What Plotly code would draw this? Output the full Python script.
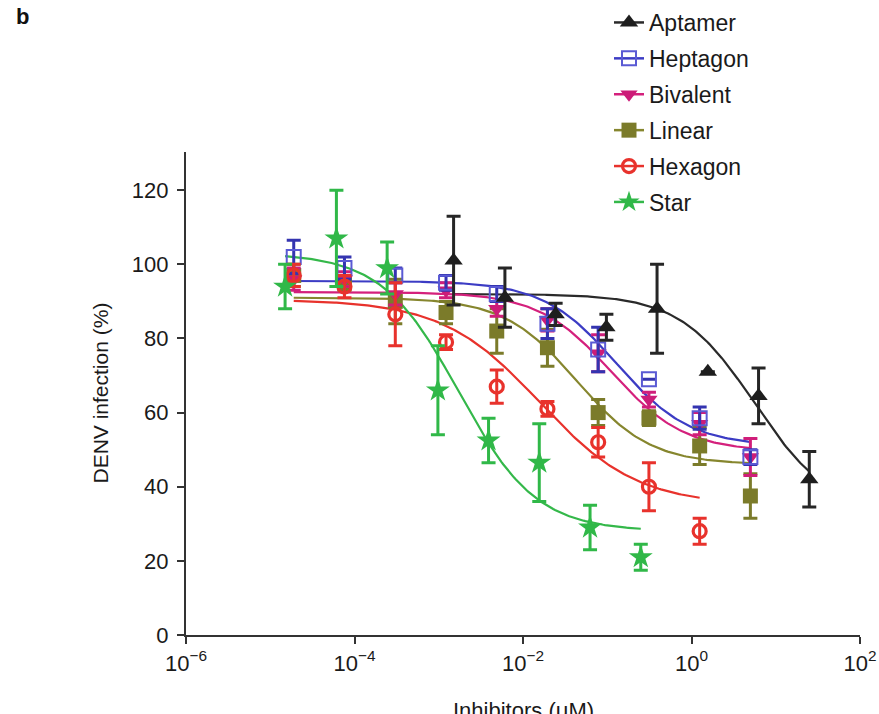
import numpy as np
import plotly.graph_objects as go

# ---- data: DENV infection (%) vs inhibitor concentration (uM) ----
names = ["Aptamer", "Heptagon", "Bivalent", "Linear", "Hexagon", "Star"]

conc_aptamer = [0.0015, 0.0061, 0.0244, 0.0977, 0.39, 1.5625, 6.25, 25]
conc_main = [1.9e-5, 7.6e-5, 3.05e-4, 1.22e-3, 4.88e-3, 0.0195, 0.078, 0.3125, 1.25, 5]
conc_hexagon = [1.9e-5, 7.6e-5, 3.05e-4, 1.22e-3, 4.88e-3, 0.0195, 0.078, 0.3125, 1.25]
conc_star = [1.5e-5, 6.1e-5, 2.44e-4, 9.77e-4, 3.9e-3, 0.0156, 0.0625, 0.25]

aptamer = [101, 91, 86.5, 83, 88, 71, 64.5, 42]
aptamer_err = [12, 8, 3, 3.5, 12, 0, 7.5, 7.5]
heptagon = [102, 99, 97, 95, 92, 84, 77, 69, 58.5, 48]
heptagon_err = [4.5, 3, 2, 2, 2, 4, 6, 0, 3, 2]
bivalent = [96, 96, 92, 93, 88, 85, 76, 63.5, 57, 48]
bivalent_err = [3, 2, 3, 2, 2, 3, 5, 2, 3, 5]
linear = [97, 95, 90, 87, 82, 77.5, 60, 58.5, 51, 37.5]
linear_err = [3, 2, 6, 3, 6, 5, 3.5, 2, 5, 6]
hexagon = [97, 94, 86.5, 79, 67, 61, 52, 40, 28]
hexagon_err = [3, 3, 8.5, 2, 4.5, 2, 4, 6.5, 3.5]
star = [94, 107, 99, 66, 52.5, 46.5, 29, 21]
star_err = [6, 13, 7, 12, 6, 10.5, 6, 3.5]

# four-parameter logistic fits: top, bottom, log10(EC50), Hill slope
fit_top = [92, 95.5, 92.5, 91, 90.5, 103]
fit_bottom = [33, 51, 49.5, 46, 35, 28]
fit_logec50 = [0.75, -0.89, -0.95, -1.36, -1.8, -2.76]
fit_hill = [0.98, 1.0, 1.0, 1.0, 0.75, 0.95]

x_ticks = [1e-6, 1e-4, 1e-2, 1, 100]
x_ticktext = ["10<sup>−6</sup>", "10<sup>−4</sup>", "10<sup>−2</sup>", "10<sup>0</sup>", "10<sup>2</sup>"]
y_ticks = [0, 20, 40, 60, 80, 100, 120]

concs = [conc_aptamer, conc_main, conc_main, conc_main, conc_hexagon, conc_star]
values = [aptamer, heptagon, bivalent, linear, hexagon, star]
errors = [aptamer_err, heptagon_err, bivalent_err, linear_err, hexagon_err, star_err]

# ---- styles ----
line_colors = ["#2a2a2a", "#3c3cc4", "#d4207c", "#86862e", "#e8322c", "#34b84a"]
marker_colors = ["#1e1e1e", "#5a5ad4", "#cc1c78", "#7b7b2a", "#e8322c", "#30b848"]
bar_colors = ["#262626", "#3434b0", "#d01e7a", "#7b7b2a", "#e8322c", "#30b848"]
symbols = ["triangle-up", "square-open", "triangle-down", "square", "circle-open", "star"]
sizes = [16, 14, 15, 15, 13, 18]
marker_lw = [0, 2, 0, 0, 3.2, 0]

FONT = "Liberation Sans, Arial, sans-serif"
fig = go.Figure()


def logistic(x, top, bottom, c, h):
    return bottom + (top - bottom) / (1 + 10 ** (h * (np.log10(x) - c)))


# fitted curves
for i in range(len(names)):
    xs = np.logspace(np.log10(min(concs[i])), np.log10(max(concs[i])), 200)
    ys = logistic(xs, fit_top[i], fit_bottom[i], fit_logec50[i], fit_hill[i])
    fig.add_trace(go.Scatter(x=xs, y=ys, mode="lines", showlegend=False,
                             line=dict(color=line_colors[i], width=2.2),
                             hoverinfo="skip"))

# data points with error bars
draw_order = [3, 2, 1, 4, 5, 0]
for i in draw_order:
    fig.add_trace(go.Scatter(
        x=concs[i], y=values[i], mode="markers", showlegend=False, name=names[i],
        marker=dict(symbol=symbols[i], size=sizes[i], color=marker_colors[i],
                    line=dict(color=marker_colors[i], width=marker_lw[i])),
        error_y=dict(type="data", array=errors[i], visible=True,
                     color=bar_colors[i], thickness=3, width=7)))

# legend entries (line + marker)
for i in range(len(names)):
    fig.add_trace(go.Scatter(
        x=[None], y=[None], mode="lines+markers", name=names[i],
        legendgroup=names[i],
        line=dict(color=line_colors[i], width=2.5),
        marker=dict(symbol=symbols[i], size=sizes[i], color=marker_colors[i],
                    line=dict(color=marker_colors[i], width=marker_lw[i]))))

axis_common = dict(showline=True, linecolor="#333333", linewidth=2.2,
                   ticks="outside", ticklen=7, tickwidth=2, tickcolor="#333333",
                   showgrid=False, zeroline=False,
                   tickfont=dict(family=FONT, size=22, color="#1a1a1a"))

fig.update_layout(
    width=879, height=714,
    margin=dict(l=186, r=19, t=152, b=79, autoexpand=False),
    paper_bgcolor="white", plot_bgcolor="white",
    xaxis=dict(type="log", range=[-6, 2], tickvals=x_ticks, ticktext=x_ticktext,
               **axis_common),
    yaxis=dict(range=[0, 130.3], tickvals=y_ticks, ticklabelstandoff=4, **axis_common),
    legend=dict(xref="container", yref="container", x=609 / 879, y=1 - 1 / 714,
                xanchor="left", yanchor="top", tracegroupgap=3,
                font=dict(family=FONT, size=23, color="#1a1a1a"),
                bgcolor="rgba(0,0,0,0)"),
    showlegend=True,
    annotations=[
        dict(text="DENV infection (%)", textangle=-90, xref="paper", yref="paper",
             x=0, y=0.5, xshift=-86, xanchor="center", yanchor="middle",
             showarrow=False, font=dict(family=FONT, size=21, color="#1a1a1a")),
        dict(text="Inhibitors (μM)", xref="paper", yref="paper", x=0.5, y=0,
             yshift=-61, xanchor="center", yanchor="top", showarrow=False,
             font=dict(family=FONT, size=22, color="#1a1a1a")),
        dict(text="<b>b</b>", xref="paper", yref="paper", x=0, y=1,
             xshift=-172, yshift=150, xanchor="left", yanchor="top", showarrow=False,
             font=dict(family=FONT, size=22, color="#111111")),
    ],
)

fig.write_html("out.html")
